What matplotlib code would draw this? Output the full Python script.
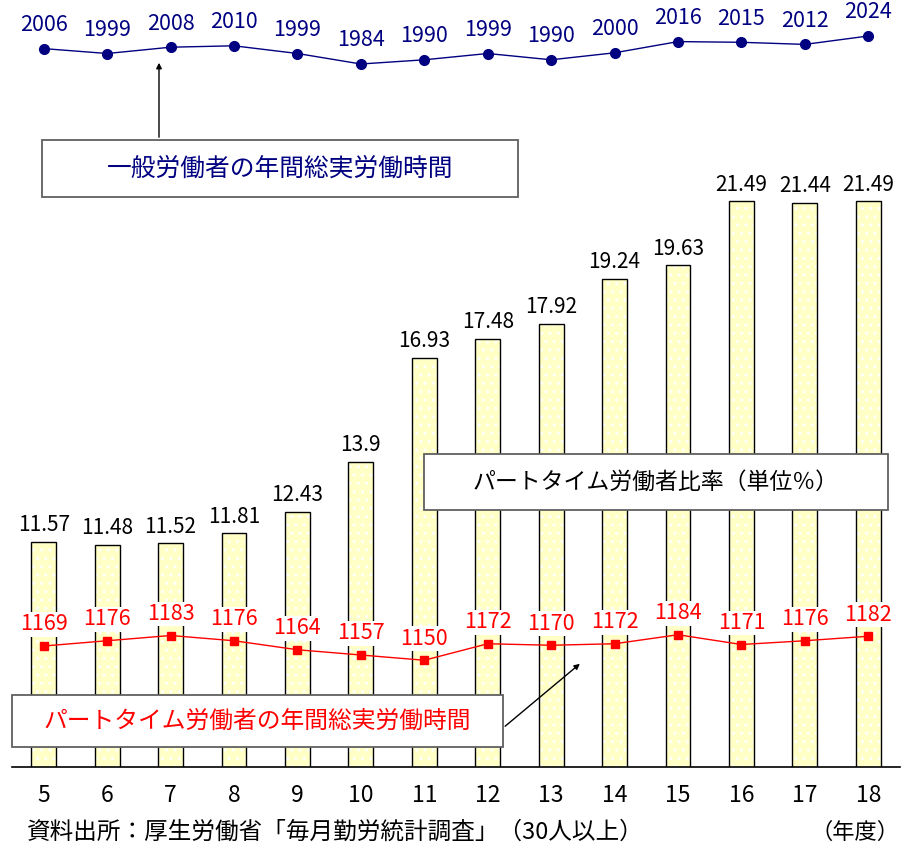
import numpy as np
import matplotlib
matplotlib.use("Agg")
import matplotlib.pyplot as plt
from matplotlib.patches import Rectangle

plt.rcParams['font.family'] = ['Noto Sans CJK JP', 'DejaVu Sans']

# data (fiscal year, Heisei)
years = [5, 6, 7, 8, 9, 10, 11, 12, 13, 14, 15, 16, 17, 18]
part_ratio = [11.57, 11.48, 11.52, 11.81, 12.43, 13.9, 16.93, 17.48, 17.92, 19.24, 19.63, 21.49, 21.44, 21.49]
general_hours = [2006, 1999, 2008, 2010, 1999, 1984, 1990, 1999, 1990, 2000, 2016, 2015, 2012, 2024]
part_hours = [1169, 1176, 1183, 1176, 1164, 1157, 1150, 1172, 1170, 1172, 1184, 1171, 1176, 1182]

W, H = 902, 846
fig = plt.figure(figsize=(W / 100, H / 100), dpi=100)

X0, X1 = 12, 900      # axes pixel extent (x)
Y_TOP, Y_BASE = 81, 767


def rect(x0, y0, x1, y1):
    # pixel box (top-left origin) -> figure fraction
    return [x0 / W, (H - y1) / H, (x1 - x0) / W, (y1 - y0) / H]


# bars
ax = fig.add_axes(rect(X0, Y_TOP, X1, Y_BASE))
ax.bar(years, part_ratio, width=0.39, color="#FFFFC6", edgecolor="white", hatch="..", lw=0, zorder=1)
ax.bar(years, part_ratio, width=0.39, fill=False, edgecolor="black", lw=1.0, zorder=2)
for x, v in zip(years, part_ratio):
    ax.annotate(f"{v:g}", (x, v), xytext=(0, 12), textcoords="offset points",
                ha="center", va="center", fontsize=15, color="black")
ax.set_xlim(4.5, 18.5)
ax.set_ylim(5, 25)
for s in ["top", "left", "right"]:
    ax.spines[s].set_visible(False)
ax.spines["bottom"].set_linewidth(1.2)
ax.set_yticks([])
ax.set_xticks(years)
ax.set_xticklabels([str(y) for y in years], fontsize=16.5)
ax.tick_params(axis="x", length=0, pad=12)
ax.patch.set_alpha(0)

# general worker hours (blue), scaled by pixels
axb = fig.add_axes(rect(X0, 0, X1, H))
axb.set_xlim(4.5, 18.5)
axb.set_ylim(2024 - (H - 36) / 0.70, 2024 + 36 / 0.70)
axb.plot(years, general_hours, color="#000080", lw=1.0, marker="o", ms=7)
for x, v in zip(years, general_hours):
    axb.annotate(str(v), (x, v), xytext=(0, 17), textcoords="offset points",
                 ha="center", va="center", fontsize=15.5, color="#000080")
axb.axis("off")

# part-time hours (red)
axr = fig.add_axes(rect(X0, 0, X1, H))
axr.set_xlim(4.5, 18.5)
axr.set_ylim(1169 - (H - 646) / 0.75, 1169 + 646 / 0.75)
axr.plot(years, part_hours, color="red", lw=1.0, marker="s", ms=5.5)
for x, v in zip(years, part_hours):
    axr.annotate(str(v), (x, v), xytext=(0, 15.5), textcoords="offset points",
                 ha="center", va="center", fontsize=15.5, color="red",
                 bbox=dict(facecolor="white", edgecolor="none", pad=1))
axr.axis("off")

# annotation layer in pixel coords
ov = fig.add_axes([0, 0, 1, 1])
ov.set_xlim(0, W)
ov.set_ylim(H, 0)
ov.axis("off")


def box(x0, y0, x1, y1, txt, color, size):
    ov.add_patch(Rectangle((x0, y0), x1 - x0, y1 - y0, facecolor="white",
                           edgecolor="#606060", lw=1.3))
    ov.text((x0 + x1) / 2, (y0 + y1) / 2, txt, ha="center", va="center",
            fontsize=size, color=color)


box(42, 140, 518, 197, "一般労働者の年間総実労働時間", "#000080", 17.8)
box(424, 454, 888, 510, "パートタイム労働者比率（単位％）", "black", 16.5)
box(12, 695, 503, 747, "パートタイム労働者の年間総実労働時間", "red", 17.1)

ov.annotate("", xy=(159, 60), xytext=(159, 140),
            arrowprops=dict(arrowstyle="-|>", color="black", lw=1.0, mutation_scale=8))
ov.annotate("", xy=(582, 662), xytext=(503, 728),
            arrowprops=dict(arrowstyle="-|>", color="black", lw=1.0, mutation_scale=8))

ov.text(27, 832, "資料出所：厚生労働省「毎月勤労統計調査」（30人以上）", ha="left", va="center",
        fontsize=17, color="black")
ov.text(900, 832, "（年度）", ha="right", va="center", fontsize=16, color="black")

fig.savefig("out.png", dpi=100)
